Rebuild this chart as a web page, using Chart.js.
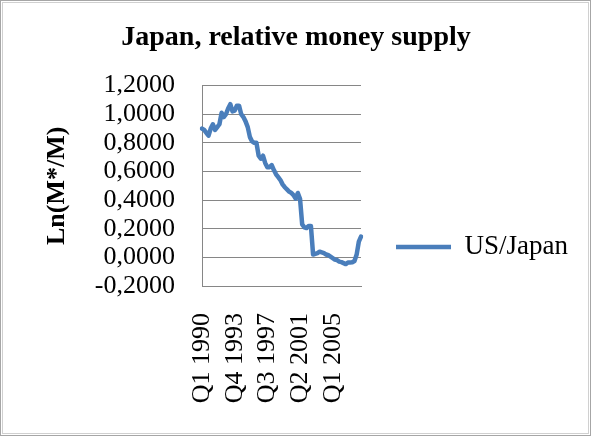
<!DOCTYPE html>
<html>
<head>
<meta charset="utf-8">
<script src="https://cdn.jsdelivr.net/npm/chart.js@4/dist/chart.umd.min.js"></script>
<style>
  body { margin: 0; background: #fff; }
  canvas { display: block; }
</style>
</head>
<body>
<canvas id="chart" width="592" height="437"></canvas>
<script>
// Ln(M*/M), US relative to Japan, quarterly from Q1 1990
const FIRST_YEAR = 1990;
const usJapan = [
  0.90, 0.89, 0.87, 0.85, 0.90, 0.93, 0.89, 0.91, 0.93, 1.01,
  0.98, 1.00, 1.04, 1.07, 1.02, 1.025, 1.06, 1.06, 1.00, 0.98,
  0.95, 0.91, 0.84, 0.81, 0.80, 0.80, 0.71, 0.69, 0.71, 0.66,
  0.63, 0.63, 0.645, 0.61, 0.58, 0.56, 0.54, 0.51, 0.49, 0.475,
  0.46, 0.45, 0.435, 0.41, 0.45, 0.41, 0.23, 0.21, 0.205, 0.22,
  0.22, 0.02, 0.025, 0.03, 0.04, 0.035, 0.03, 0.02, 0.015, 0.005,
  -0.005, -0.015, -0.02, -0.03, -0.033, -0.04, -0.047, -0.036, -0.035, -0.034,
  -0.025, 0.02, 0.11, 0.145
];
const yTicks = { min: -0.2, max: 1.2, step: 0.2 };
const LABEL_EVERY = 15;

// "Q1 1990", "Q2 1990", ...
const quarters = usJapan.map((_, i) => `Q${i % 4 + 1} ${FIRST_YEAR + Math.floor(i / 4)}`);

const SERIF = "'Liberation Serif', 'Times New Roman', serif";
const BLUE = '#4A7EBB';
const GREY = '#868686';

Chart.defaults.color = '#000';
Chart.defaults.font.family = SERIF;

// thin frame round the whole chart
const frame = {
  id: 'frame',
  afterDraw(chart) {
    const ctx = chart.ctx;
    ctx.save();
    ctx.strokeStyle = '#a6a6a6';
    ctx.lineWidth = 1;
    ctx.strokeRect(0.5, 0.5, chart.width - 2, chart.height - 2);
    ctx.strokeStyle = '#d0d0d0';
    ctx.strokeRect(2.5, 2.5, chart.width - 6, chart.height - 6);
    ctx.restore();
  }
};

new Chart(document.getElementById('chart'), {
  type: 'line',
  data: {
    labels: quarters,
    datasets: [{
      label: 'US/Japan',
      data: usJapan,
      borderColor: BLUE,
      backgroundColor: BLUE,
      borderWidth: 4.5,
      borderCapStyle: 'round',
      borderJoinStyle: 'round',
      pointRadius: 0,
      tension: 0
    }]
  },
  options: {
    responsive: false,
    animation: false,
    devicePixelRatio: 1,
    layout: { padding: { top: 0, left: 14, right: 14, bottom: 8 } },
    plugins: {
      title: {
        display: true,
        text: 'Japan, relative money supply',
        font: { size: 28, weight: 'bold', lineHeight: 1.2 },
        padding: { top: 21, bottom: 31 }
      },
      legend: {
        position: 'right',
        maxWidth: 300,
        title: { display: true, text: '', font: { size: 10, lineHeight: 1.2 }, padding: { top: 53, bottom: 0 } },
        labels: {
          usePointStyle: true,
          pointStyle: 'line',
          pointStyleWidth: 55,
          padding: 35,
          font: { size: 27 }
        }
      },
      tooltip: { enabled: false }
    },
    scales: {
      x: {
        grid: { display: false, drawTicks: false },
        border: { display: true, color: GREY, width: 1 },
        ticks: {
          autoSkip: false,
          minRotation: 90,
          maxRotation: 90,
          padding: 27,
          font: { size: 26 },
          callback: (v, i) => (i % LABEL_EVERY === 0 ? quarters[i] : '')
        },
        afterFit: (scale) => { scale.height = 143; }
      },
      y: {
        min: yTicks.min,
        max: yTicks.max,
        grid: { color: GREY, lineWidth: 1, drawTicks: false },
        border: { display: true, color: GREY, width: 1 },
        ticks: {
          autoSkip: false,
          stepSize: yTicks.step,
          padding: 27,
          font: { size: 26 },
          callback: (v) => (Math.abs(v) < 1e-9 ? 0 : v).toFixed(4).replace('.', ',')
        },
        title: {
          display: true,
          text: 'Ln(M*/M)',
          font: { size: 26, weight: 'bold', lineHeight: 1.2 },
          padding: { top: 28, bottom: 0 }
        },
        afterFit: (scale) => { scale.width = 188; }
      }
    }
  },
  plugins: [frame]
});
</script>
</body>
</html>
